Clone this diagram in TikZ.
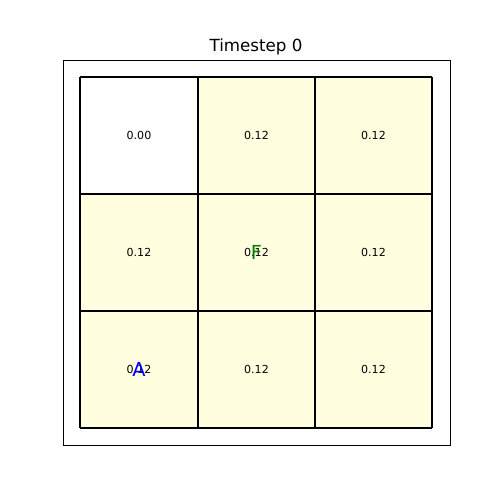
\documentclass[tikz,border=0pt]{standalone}
\usepackage{fontspec}
\setmainfont{DejaVu Sans}
\usetikzlibrary{positioning}
\definecolor{GWYellow}{HTML}{FFFFE0}
\definecolor{GWGreen} {HTML}{008000}
\definecolor{GWBlue}  {HTML}{0000FF}
\tikzset{
  cellbox/.style={draw=black,line width=1.1pt},
  valtext/.style={font=\fontsize{6.3}{7}\selectfont,text=black,inner sep=0pt},
  agenttext/.style={font=\fontsize{11}{13}\selectfont,inner sep=0pt},
}
\begin{document}
\begin{tikzpicture}[x=0.02cm,y=-0.02cm]
    \useasboundingbox[fill=white] (0,0) rectangle (500,500);
    % axes frame and title
    \draw[black,line width=0.5pt] (63.5,60.5) rectangle (450.5,445.5);
    \node[font=\fontsize{9.5}{11}\selectfont,anchor=base] (title) at (256,52) {Timestep 0};
    % grid cells
    \foreach \r/\y in {0/77,1/194,2/311}{
      \foreach \c/\x in {0/80,1/198,2/315}{
        \pgfmathsetmacro{\w}{ifthenelse(\c==0,118,117)}
        \ifnum\r\c=0
          \def\cellcol{white}\def\val{0.00}
        \else
          \def\cellcol{GWYellow}\def\val{0.12}
        \fi
        \fill[\cellcol] (\x,\y) rectangle ++(\w,117);
        \node[valtext] (v-\r-\c) at (\x+\w/2,\y+58) {\val};
      }
    }
    \foreach \x in {80,198,315,432} \draw[cellbox] (\x,77) -- (\x,428);
    \foreach \y in {77,194,311,428} \draw[cellbox] (80,\y) -- (432,\y);
    % food and agent
    \node[agenttext,text=GWGreen] (food) at (v-1-1.center) {F};
    \node[agenttext,text=GWBlue] (agent) at (v-2-0.center) {A};
\end{tikzpicture}
\end{document}
